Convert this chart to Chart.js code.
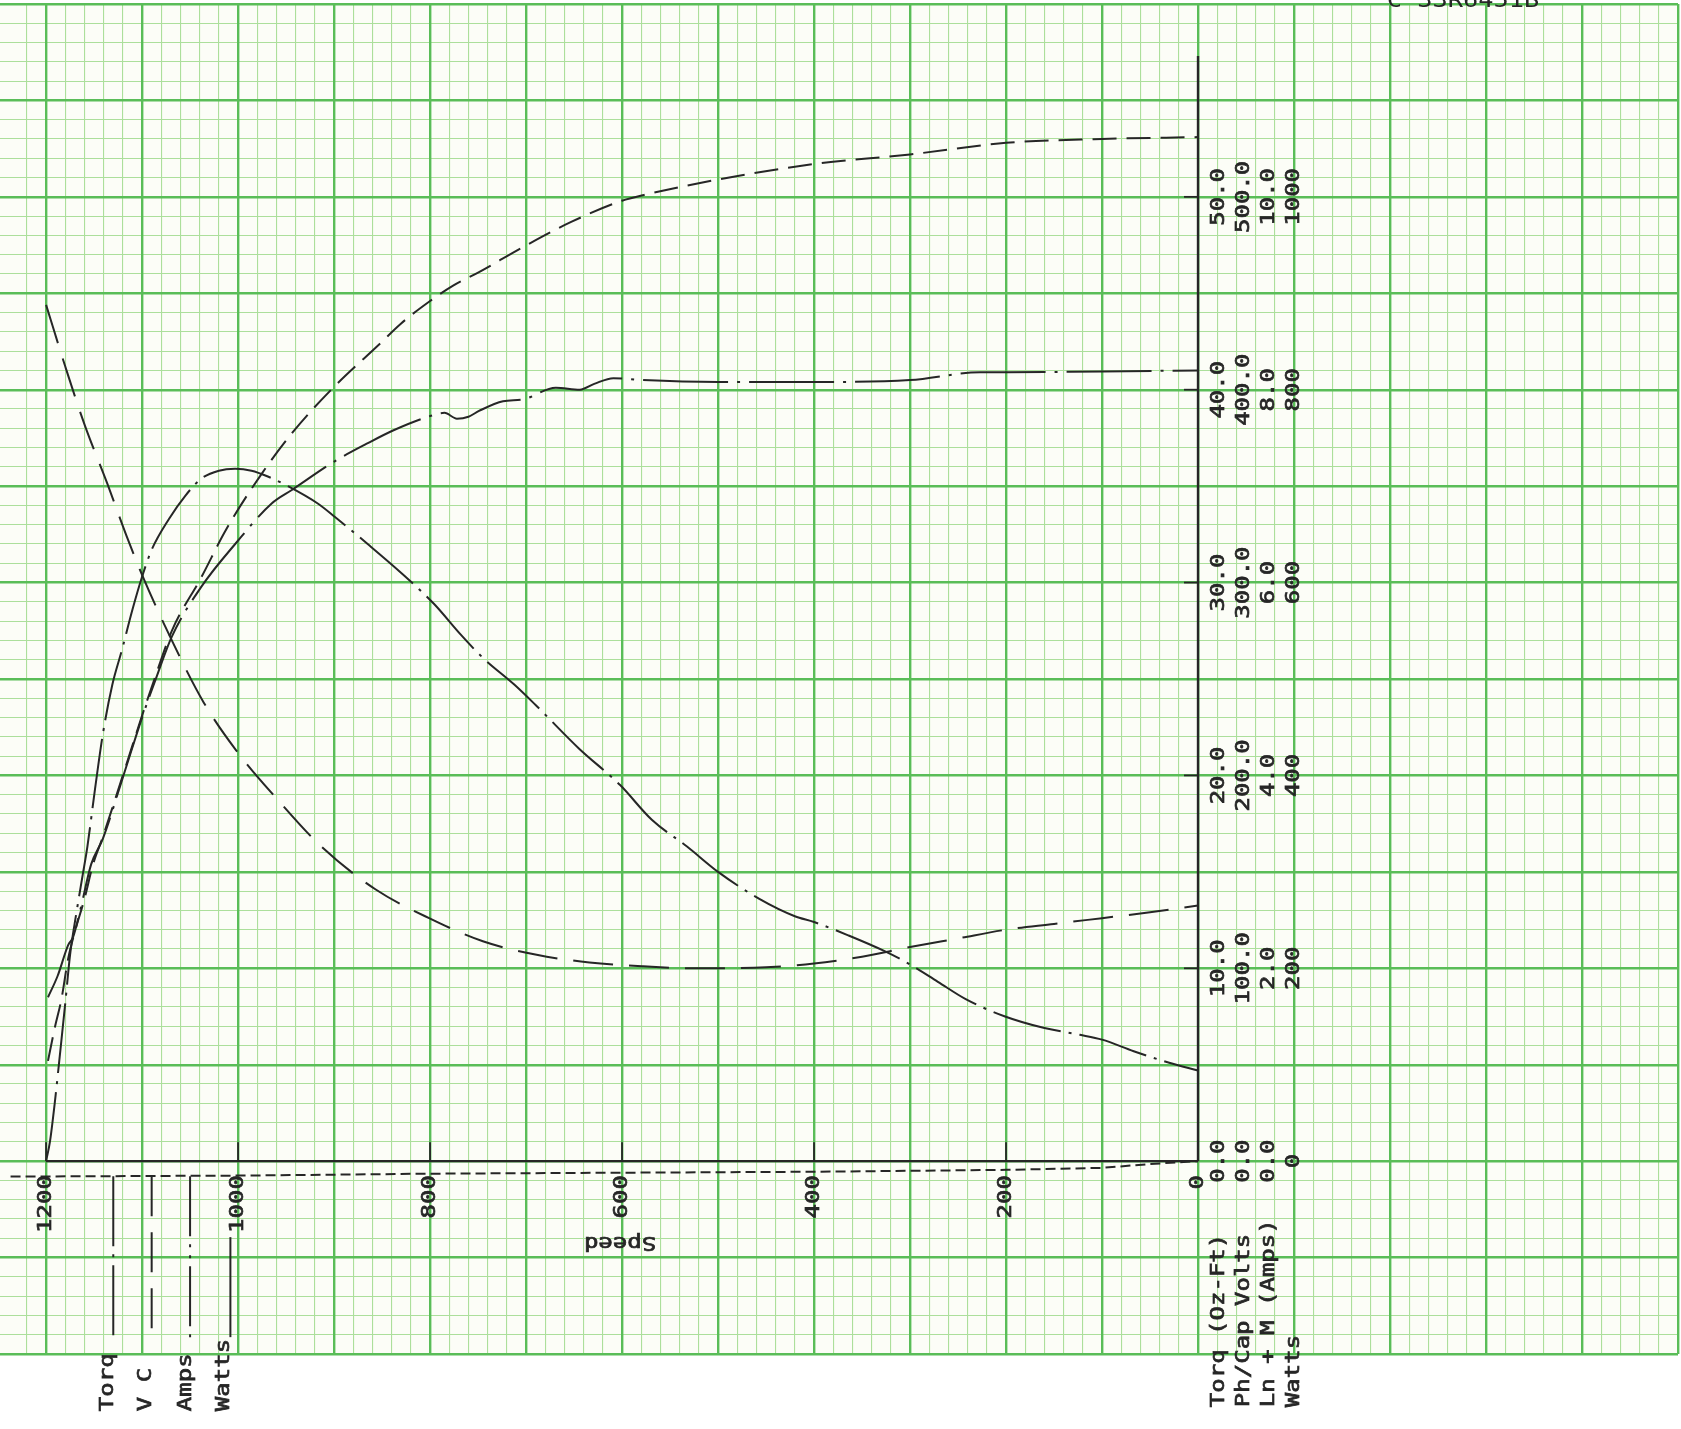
<!DOCTYPE html>
<html>
<head>
<meta charset="utf-8">
<script src="https://cdn.jsdelivr.net/npm/chart.js@4.4.1/dist/chart.umd.min.js"></script>
<style>
  html, body { margin: 0; padding: 0; background: #ffffff; }
  #wrap { width: 1681px; height: 1429px; }
</style>
</head>
<body>
<div id="wrap"><canvas id="c" width="1681" height="1429"></canvas></div>
<script>
// ---------------- DATA ----------------
const speedTicks      = [1200, 1000, 800, 600, 400, 200, 0];
const speedTickLabels = ["1200", "1000", "800", "600", "400", "200", "0"];
const yTickValues     = [0, 10, 20, 30, 40, 50];
const torqTickLabels  = ["0.0", "10.0", "20.0", "30.0", "40.0", "50.0"];
const voltTickLabels  = ["0.0", "100.0", "200.0", "300.0", "400.0", "500.0"];
const ampsTickLabels  = ["0.0", "2.0", "4.0", "6.0", "8.0", "10.0"];
const wattTickLabels  = ["0", "200", "400", "600", "800", "1000"];
const axisTitles      = ["Torq (Oz-Ft)", "Ph/Cap Volts", "Ln + M (Amps)", "Watts"];
const legendNames     = ["Torq", "V C", "Amps", "Watts"];
const xTitle          = "Speed";
const chartId         = "C 33R6451B";

// Torque (scale 0-50 Oz-Ft)
const torqSpeed = [1200,1196,1191,1185,1180,1175,1168,1162,1157,1149,1141,1131,1121,1110,1100,1090,1072,1055,1038,1020,1003,986,969,948,917,899,865,830,796,768,745,712,689,645,602,569,532,500,457,420,400,364,327,300,271,242,201,160,123,100,67,30,0];
const torqValue = [0,1.0,3.0,5.8,8.2,10.7,13.0,14.8,16.3,19.3,22.1,24.7,26.5,28.6,30.3,31.7,33.3,34.5,35.4,35.8,35.9,35.8,35.5,35.0,34.1,33.4,32.0,30.5,28.9,27.3,26.1,24.7,23.6,21.4,19.5,17.7,16.3,15.0,13.6,12.7,12.4,11.7,10.9,10.2,9.3,8.4,7.5,6.9,6.55,6.3,5.7,5.1,4.7];

// Capacitor volts (scale 0-500)
const vcSpeed = [1200,1180,1160,1136,1116,1100,1069,1036,1002,958,913,857,801,745,689,634,578,522,500,450,400,350,300,250,200,150,100,50,0];
const vcValue = [44.4,41.2,38.2,35.1,32.4,30.4,27.0,23.8,21.3,18.7,16.3,14.1,12.6,11.4,10.7,10.3,10.1,10.0,10.0,10.05,10.25,10.6,11.1,11.55,12.0,12.3,12.6,12.9,13.25];

// Amps (scale 0-10)
const ampsSpeed = [1198,1188,1177,1172,1164,1153,1141,1120,1100,1085,1069,1038,1003,965,944,899,866,838,802,785,772,760,749,724,703,669,644,629,609,579,500,400,300,227,200,100,0];
const ampsValue = [8.5,9.6,11.2,11.6,13.1,15.4,16.7,19.9,23.0,25.1,27.2,29.8,32.0,34.1,34.8,36.3,37.2,37.9,38.6,38.8,38.5,38.6,38.9,39.4,39.5,40.1,40.0,40.3,40.6,40.5,40.4,40.4,40.5,40.9,40.9,40.95,41.0];

// Watts (scale 0-1000)
const wattSpeed = [1198,1191,1184,1177,1170,1160,1151,1141,1120,1100,1085,1069,1038,1013,976,943,901,852,831,800,776,749,703,653,600,577,500,400,300,200,100,0];
const wattValue = [5.2,6.9,8.4,10.5,11.9,13.6,15.4,16.8,20.0,23.1,25.3,27.5,30.3,32.7,35.6,37.8,40.1,42.4,43.4,44.6,45.4,46.1,47.4,48.7,49.8,50.1,50.9,51.7,52.2,52.8,53.0,53.1];

// dashed base trace just under the speed axis
const baseSpeed = [1237,1000,800,600,400,200,100,50,0];
const baseValue = [-0.8,-0.75,-0.65,-0.6,-0.55,-0.45,-0.35,-0.15,0];

// ---------------- STYLE ----------------
const INK = '#262626';
const PAPER = '#fcfdf7';
const GRID_MAJOR = '#5abd58';
const GRID_MINOR = '#acdf9b';
const FONT = '"DejaVu Sans Mono", "Liberation Mono", monospace';
const dashes = {
  torq: [70, 8, 3, 8],
  vc:   [40, 16],
  amps: [85, 9, 3, 9],
  watt: [24, 10],
  base: [10, 5]
};

function pts(xs, ys) { return xs.map((x, i) => ({ x: x, y: ys[i] })); }

function ds(label, xs, ys, dash, extra) {
  return Object.assign({
    label: label,
    data: pts(xs, ys),
    borderColor: INK,
    borderWidth: 2,
    borderDash: dash,
    pointRadius: 0,
    fill: false,
    cubicInterpolationMode: 'monotone',
    xAxisID: 'x',
    yAxisID: 'y'
  }, extra || {});
}

function isMult(v, step) {
  const q = v / step;
  return Math.abs(q - Math.round(q)) < 1e-6;
}

function gridOpts(minorStep, majorStep, isMinorLayer) {
  return {
    drawTicks: false,
    color: (c) => {
      const v = c.tick ? c.tick.value : NaN;
      const major = isMult(v, majorStep);
      const minor = isMult(v, minorStep);
      if (isMinorLayer) return (minor && !major) ? GRID_MINOR : 'rgba(0,0,0,0)';
      return major ? GRID_MAJOR : 'rgba(0,0,0,0)';
    },
    lineWidth: isMinorLayer ? 1.1 : 2.4
  };
}

function hiddenScale(extra) {
  return Object.assign({
    type: 'linear',
    display: true,
    ticks: { display: false, autoSkip: false },
    border: { display: false }
  }, extra);
}

function rtext(ctx, str, x, y, rot, align) {
  ctx.save();
  ctx.translate(x, y);
  ctx.rotate(rot);
  ctx.scale(1.2, 1);
  ctx.textAlign = align;
  ctx.textBaseline = 'middle';
  ctx.fillText(str, 0, 0);
  ctx.strokeText(str, 0, 0);
  ctx.restore();
}

const deco = {
  id: 'deco',
  beforeDraw(chart) {
    const { ctx, chartArea: a } = chart;
    ctx.save();
    ctx.fillStyle = '#ffffff';
    ctx.fillRect(0, 0, chart.width, chart.height);
    ctx.fillStyle = PAPER;
    ctx.fillRect(a.left, a.top, a.right - a.left, a.bottom - a.top);
    ctx.restore();
  },
  beforeDatasetsDraw(chart) {
    const { ctx } = chart;
    const xs = chart.scales.x, ys = chart.scales.y;
    const x0 = xs.getPixelForValue(0), y0 = ys.getPixelForValue(0);
    ctx.save();
    ctx.strokeStyle = INK;
    ctx.lineWidth = 2.4;
    ctx.setLineDash([]);
    // speed axis
    ctx.beginPath();
    ctx.moveTo(xs.getPixelForValue(1200), y0);
    ctx.lineTo(x0, y0);
    ctx.stroke();
    // value axis
    ctx.beginPath();
    ctx.moveTo(x0, y0);
    ctx.lineTo(x0, ys.getPixelForValue(57.3));
    ctx.stroke();
    ctx.lineWidth = 1.8;
    speedTicks.forEach(s => {
      if (s === 0) return;
      const x = xs.getPixelForValue(s);
      ctx.beginPath(); ctx.moveTo(x, y0); ctx.lineTo(x, y0 - 19); ctx.stroke();
    });
    yTickValues.forEach(v => {
      if (v === 0) return;
      const y = ys.getPixelForValue(v);
      ctx.beginPath(); ctx.moveTo(x0, y); ctx.lineTo(x0 - 14, y); ctx.stroke();
    });
    ctx.restore();
  },
  afterDatasetsDraw(chart) {
    const { ctx } = chart;
    const xs = chart.scales.x, ys = chart.scales.y;
    const x0 = xs.getPixelForValue(0), y0 = ys.getPixelForValue(0);
    const R = -Math.PI / 2;
    ctx.save();
    ctx.fillStyle = INK;
    ctx.strokeStyle = INK;
    ctx.lineWidth = 0.7;
    ctx.font = '20px ' + FONT;
    // speed tick labels
    speedTicks.forEach((s, i) => {
      rtext(ctx, speedTickLabels[i], xs.getPixelForValue(s), y0 + 14, R, 'right');
    });
    // value tick labels (four columns)
    const cols = [21, 46, 71, 96];
    const colLabels = [torqTickLabels, voltTickLabels, ampsTickLabels, wattTickLabels];
    yTickValues.forEach((v, i) => {
      const y = ys.getPixelForValue(v);
      colLabels.forEach((lab, k) => rtext(ctx, lab[i], x0 + cols[k], y, R, 'center'));
    });
    // axis titles at bottom right
    axisTitles.forEach((t, k) => rtext(ctx, t, x0 + cols[k], y0 + 246, R, 'left'));
    // x title (upside down)
    rtext(ctx, xTitle, xs.getPixelForValue(600) - 2, y0 + 81, Math.PI, 'center');
    // legend
    const legTextSpeed = [1136, 1096, 1054, 1015];
    const legLineSpeed = [1130, 1090, 1050, 1008];
    const legDash = [dashes.torq, dashes.vc, [60, 8, 3, 8, 3, 8], []];
    const legTop = [y0 + 15, y0 + 15, y0 + 15, y0 + 76];
    legendNames.forEach((n, k) => {
      rtext(ctx, n, xs.getPixelForValue(legTextSpeed[k]), y0 + 250, R, 'left');
      const x = xs.getPixelForValue(legLineSpeed[k]);
      ctx.save();
      ctx.strokeStyle = INK; ctx.lineWidth = 2;
      ctx.setLineDash(legDash[k]);
      ctx.beginPath(); ctx.moveTo(x, legTop[k]); ctx.lineTo(x, y0 + 176); ctx.stroke();
      ctx.restore();
    });
    // chart id, cut at top edge
    ctx.font = '22px ' + FONT;
    ctx.textAlign = 'center';
    ctx.textBaseline = 'alphabetic';
    ctx.save();
    ctx.translate(1463, 7);
    ctx.scale(1.15, 1);
    ctx.fillText(chartId, 0, 0);
    ctx.restore();
    ctx.restore();
  }
};

const chart = new Chart(document.getElementById('c'), {
  type: 'line',
  data: {
    datasets: [
      ds('Torq', torqSpeed, torqValue, dashes.torq),
      ds('V C', vcSpeed, vcValue, dashes.vc),
      ds('Amps', ampsSpeed, ampsValue, dashes.amps),
      ds('Watts', wattSpeed, wattValue, dashes.watt),
      ds('base', baseSpeed, baseValue, dashes.base, { cubicInterpolationMode: 'default', tension: 0 })
    ]
  },
  options: {
    responsive: false,
    animation: false,
    devicePixelRatio: 1,
    layout: { padding: { left: 0, right: 3, top: 4, bottom: 75 } },
    plugins: { legend: { display: false }, tooltip: { enabled: false } },
    elements: { point: { radius: 0 } },
    scales: {
      x: hiddenScale({ reverse: true, min: -500, max: 1248, z: -1,
            ticks: { display: false, autoSkip: false, stepSize: 20 }, grid: gridOpts(20, 100, true) }),
      y: hiddenScale({ min: -10, max: 60, z: -1,
            ticks: { display: false, autoSkip: false, stepSize: 1 }, grid: gridOpts(1, 5, true) }),
      xMajor: hiddenScale({ axis: 'x', position: 'bottom', reverse: true, min: -500, max: 1248, z: 0,
            ticks: { display: false, autoSkip: false, stepSize: 100 }, grid: gridOpts(20, 100, false) }),
      yMajor: hiddenScale({ axis: 'y', position: 'left', min: -10, max: 60, z: 0,
            ticks: { display: false, autoSkip: false, stepSize: 5 }, grid: gridOpts(1, 5, false) })
    }
  },
  plugins: [deco]
});
</script>
</body>
</html>
